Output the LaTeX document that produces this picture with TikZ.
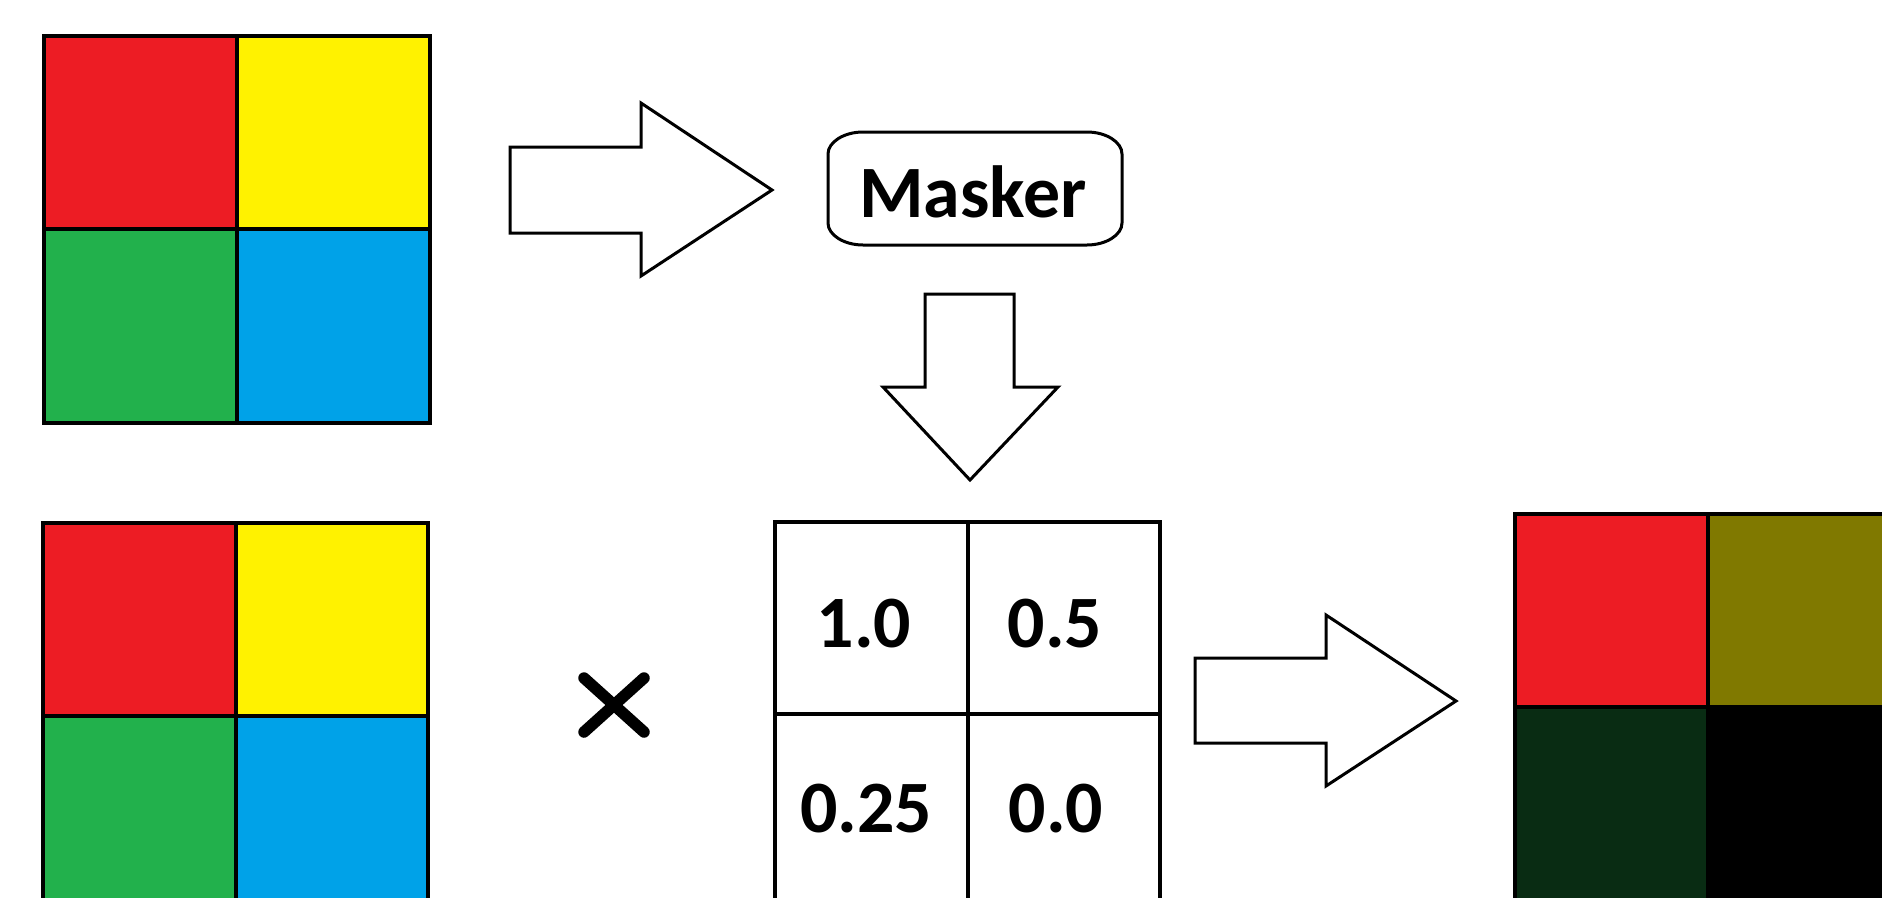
\documentclass[tikz,border=0pt]{standalone}
\usepackage{fontspec}
\newfontfamily\calib{Carlito}
\definecolor{cRed}{HTML}{ED1C24}
\definecolor{cYellow}{HTML}{FFF200}
\definecolor{cGreen}{HTML}{22B14C}
\definecolor{cBlue}{HTML}{00A2E8}
\definecolor{cOlive}{HTML}{807900}
\definecolor{cDarkGreen}{HTML}{092C13}
\tikzset{
  cell/.style={inner sep=0pt, outer sep=0pt, minimum width=19.3mm, minimum height=19.3mm, anchor=north west},
  gridline/.style={line width=0.33mm, draw=black},
  blockarrow/.style={draw=black, fill=white, line width=0.3mm, line join=miter},
  label/.style={font=\calib\bfseries\fontsize{21pt}{25pt}\selectfont, inner sep=0pt, anchor=base},
  times/.style={line width=1.15mm, line cap=round}
}
\begin{document}
\begin{tikzpicture}[x=0.01cm, y=-0.01cm]
  \useasboundingbox (0,0) rectangle (1882,897);
  \clip (0,0) rectangle (1882,897);
  \fill[white] (0,0) rectangle (1882,897);

  % input image, top
  \node[cell, fill=cRed]    (inTL) at (44,36)   {};
  \node[cell, fill=cYellow] (inTR) at (237,36)  {};
  \node[cell, fill=cGreen]  (inBL) at (44,229)  {};
  \node[cell, fill=cBlue]   (inBR) at (237,229) {};
  \draw[gridline] (44,36) rectangle (430,423);
  \draw[gridline] (237,36) -- (237,423) (44,229) -- (430,229);

  % arrow into the masker
  \draw[blockarrow] (510,147) -- (641,147) -- (641,103) -- (772,190)
                    -- (641,276) -- (641,233) -- (510,233) -- cycle;

  % masker box with elliptical corners
  \draw[line width=0.3mm]
    (863,132) -- (1087,132)
    .. controls (1106,132) and (1122,142) .. (1122,154)
    -- (1122,223)
    .. controls (1122,235) and (1106,245) .. (1087,245)
    -- (863,245)
    .. controls (844,245) and (828,235) .. (828,223)
    -- (828,154)
    .. controls (828,142) and (844,132) .. (863,132) -- cycle;
  \node[label] (masker) at (973,217) {Masker};

  % arrow down to the mask
  \draw[blockarrow] (925,294) -- (1014,294) -- (1014,387) -- (1058,387)
                    -- (970,480) -- (883,387) -- (925,387) -- cycle;

  % input image, bottom
  \node[cell, fill=cRed]    (imTL) at (43,523)  {};
  \node[cell, fill=cYellow] (imTR) at (236,523) {};
  \node[cell, fill=cGreen]  (imBL) at (43,716)  {};
  \node[cell, fill=cBlue]   (imBR) at (236,716) {};
  \draw[gridline] (43,523) rectangle (428,909);
  \draw[gridline] (236,523) -- (236,909) (43,716) -- (428,716);

  % multiplication sign
  \draw[times] (584,678) -- (644,732) (644,678) -- (584,732);

  % mask values
  \node[cell] (mTL) at (775,522) {};
  \node[cell] (mTR) at (968,522) {};
  \node[cell] (mBL) at (775,714) {};
  \node[cell] (mBR) at (968,714) {};
  \draw[gridline] (775,522) rectangle (1160,907);
  \draw[gridline] (968,522) -- (968,907) (775,714) -- (1160,714);
  \node[label] (v1) at (864,647)  {1.0};
  \node[label] (v2) at (1055,647) {0.5};
  \node[label] (v3) at (866,832)  {0.25};
  \node[label] (v4) at (1056,832) {0.0};

  % arrow to the result
  \draw[blockarrow] (1195,658) -- (1326,658) -- (1326,615) -- (1456,701)
                    -- (1326,786) -- (1326,743) -- (1195,743) -- cycle;

  % masked result
  \node[cell, fill=cRed]       (outTL) at (1515,514) {};
  \node[cell, fill=cOlive]     (outTR) at (1708,514) {};
  \node[cell, fill=cDarkGreen] (outBL) at (1515,707) {};
  \node[cell, fill=black]      (outBR) at (1708,707) {};
  \draw[gridline] (1515,514) rectangle (1901,900);
  \draw[gridline] (1708,514) -- (1708,900) (1515,707) -- (1901,707);
\end{tikzpicture}
\end{document}
